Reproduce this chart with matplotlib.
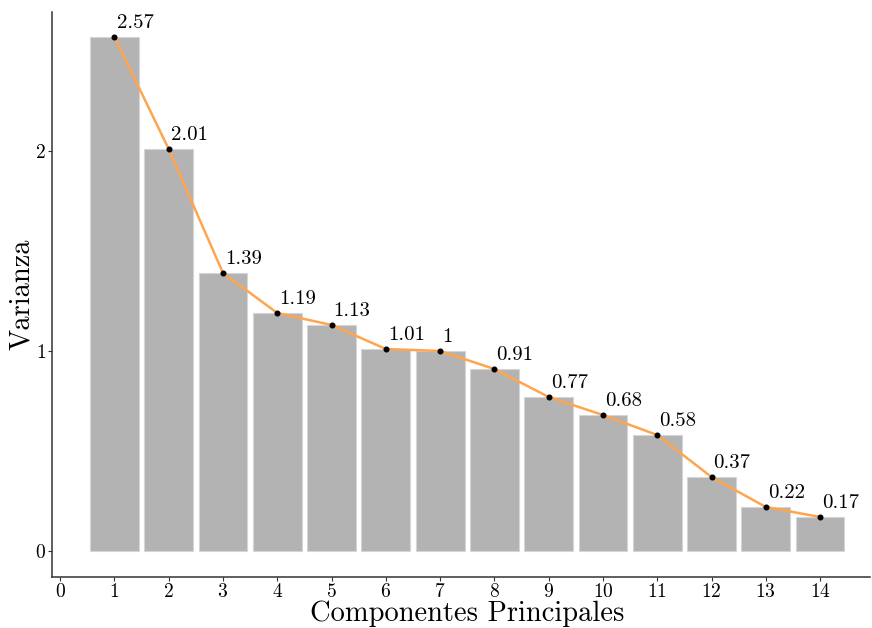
import matplotlib
matplotlib.use("Agg")
import matplotlib.pyplot as plt

# varianza explicada por componente
componentes = list(range(1, 15))
varianza = [2.57, 2.01, 1.39, 1.19, 1.13, 1.01, 1.00, 0.91, 0.77, 0.68, 0.58, 0.37, 0.22, 0.17]
etiquetas = ["2.57", "2.01", "1.39", "1.19", "1.13", "1.01", "1", "0.91",
             "0.77", "0.68", "0.58", "0.37", "0.22", "0.17"]

plt.rcParams["font.family"] = ["cmr10", "DejaVu Serif"]
plt.rcParams["mathtext.fontset"] = "cm"
plt.rcParams["axes.formatter.use_mathtext"] = True

fig = plt.figure(figsize=(8.72, 6.28), dpi=100)
ax = fig.add_axes([52 / 872, 51 / 628, 818 / 872, 565 / 628])

ax.bar(componentes, varianza, width=0.9, color="#B3B3B3", edgecolor="#D6D6D6", linewidth=0.8, zorder=1)
ax.plot(componentes, varianza, color="#FFA54F", linewidth=1.8, zorder=2)
ax.scatter(componentes, varianza, color="black", s=11, zorder=3)

# etiqueta con el valor de cada componente
for x, y, t in zip(componentes, varianza, etiquetas):
    ax.annotate(t, (x, y), xytext=(1.5, 3.5), textcoords="offset points",
                ha="left", va="bottom", fontsize=15)

ax.set_xlim(-0.15, 14.92)
ax.set_ylim(-0.13, 2.695)
ax.set_xticks(range(0, 15))
ax.set_yticks([0, 1, 2])
ax.set_xlabel("Componentes Principales", fontsize=20.5)
ax.set_ylabel("Varianza", fontsize=20.5)
ax.xaxis.set_label_coords(0.507, -0.041)
ax.yaxis.set_label_coords(-0.021, 0.5)

for s in ["top", "right"]:
    ax.spines[s].set_visible(False)
for s in ["left", "bottom"]:
    ax.spines[s].set_color("#333333")
    ax.spines[s].set_linewidth(1.1)
ax.tick_params(colors="#333333", labelcolor="black", labelsize=14, length=3, width=0.8, pad=1.5)

fig.savefig("out.png", dpi=100)
